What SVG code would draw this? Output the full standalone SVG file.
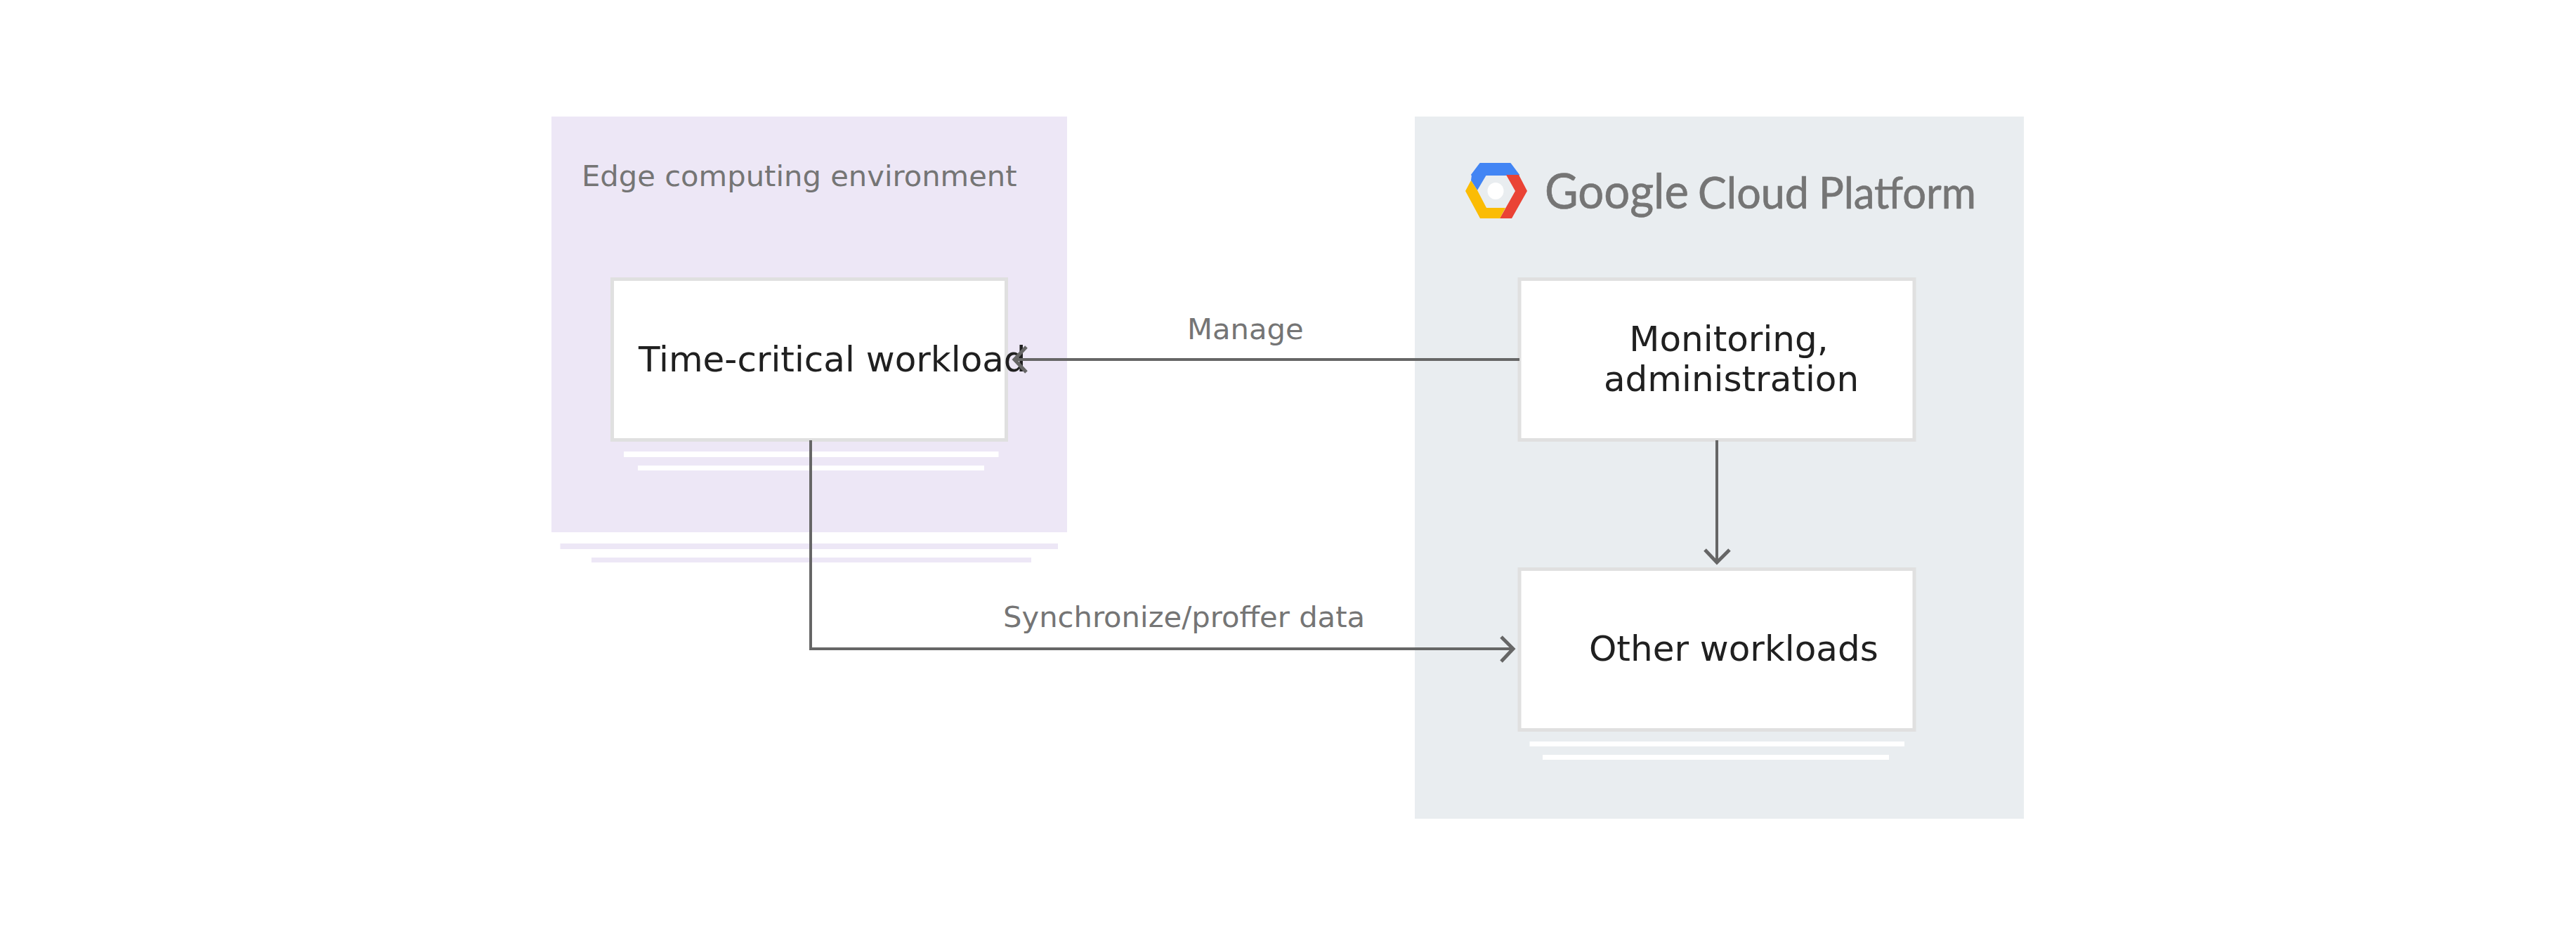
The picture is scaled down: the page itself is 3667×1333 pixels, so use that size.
<svg xmlns="http://www.w3.org/2000/svg" width="3667" height="1333" viewBox="0 0 3667 1333">
<style>
.box{fill:#fff;stroke:#e0e0e0;stroke-width:5}
.node{font-family:"DejaVu Sans",sans-serif;font-size:50px;fill:#202020}
.lbl{font-family:"DejaVu Sans",sans-serif;font-size:41.700px;fill:#757575}
.logo{font-family:"Lato","Open Sans",sans-serif;fill:#757575;stroke:#757575;stroke-width:.7}
.w{fill:#fff}
.c{fill:none;stroke:#666;stroke-width:4}
.h{fill:none;stroke:#666;stroke-width:5}
</style>
<rect width="3667" height="1333" fill="#fff"/>
<g id="edge-panel"><rect x="785" y="166" width="734" height="592" fill="#ede7f6"/>
<text class="lbl" x="828" y="265">Edge computing environment</text>
<rect x="797.500" y="774" width="708.500" height="8" fill="#ede7f6"/><rect x="842" y="794" width="626" height="7" fill="#ede7f6"/></g>
<g id="gcp-panel"><rect x="2014" y="166" width="867" height="1000" fill="#e9edf0"/>
<g id="gcp-logo">
<path d="M2107 233H2150L2162 249H2095Z" fill="#4285f4" stroke="#4285f4" stroke-width="2" stroke-linejoin="round"/>
<path d="M2095 249H2116L2103 271L2094 257Z" fill="#4285f4"/>
<path d="M2144 249H2162L2174 272L2152 311H2135L2157 272Z" fill="#ea4335"/>
<path d="M2094 257L2103 271L2116 296H2143L2135 311H2107L2086 272Z" fill="#fbbc05"/>
<ellipse cx="2129" cy="272" rx="11.500" ry="12" fill="#fff"/>
<text class="logo" x="2199" y="297" font-size="70" textLength="205" lengthAdjust="spacingAndGlyphs">Google</text>
<text class="logo" x="2417" y="297" font-size="62" textLength="158" lengthAdjust="spacingAndGlyphs">Cloud</text>
<text class="logo" x="2589" y="297" font-size="62" textLength="224" lengthAdjust="spacingAndGlyphs">Platform</text>
</g></g>
<g id="time-critical"><rect class="box" x="871.500" y="397.500" width="561" height="229"/>
<rect class="w" x="888" y="643" width="533.500" height="8"/><rect class="w" x="908" y="663" width="493" height="7"/>
<text class="node" x="909" y="529">Time-critical workload</text></g>
<g id="monitoring"><rect class="box" x="2163" y="397.500" width="562" height="229"/>
<text class="node" x="2461" y="500" text-anchor="middle">Monitoring,</text>
<text class="node" x="2464.500" y="557" text-anchor="middle">administration</text></g>
<g id="other"><rect class="box" x="2163" y="810.500" width="562" height="229"/>
<rect class="w" x="2177.500" y="1056" width="533.500" height="7"/><rect class="w" x="2196" y="1075" width="493" height="7"/>
<text class="node" x="2262" y="941">Other workloads</text></g>
<g id="connectors">
<path class="c" d="M2163 512H1443"/><path class="h" d="M1461 494L1444 512L1461 530"/>
<path class="c" d="M2444 627V799"/><path class="h" d="M2427 783L2444 801L2462 783"/>
<path class="c" d="M1154 627V924H2153"/><path class="h" d="M2137 907L2154 924L2137 942"/>
<text class="lbl" x="1690" y="483">Manage</text>
<text class="lbl" x="1428" y="893">Synchronize/proffer data</text>
</g>
</svg>
